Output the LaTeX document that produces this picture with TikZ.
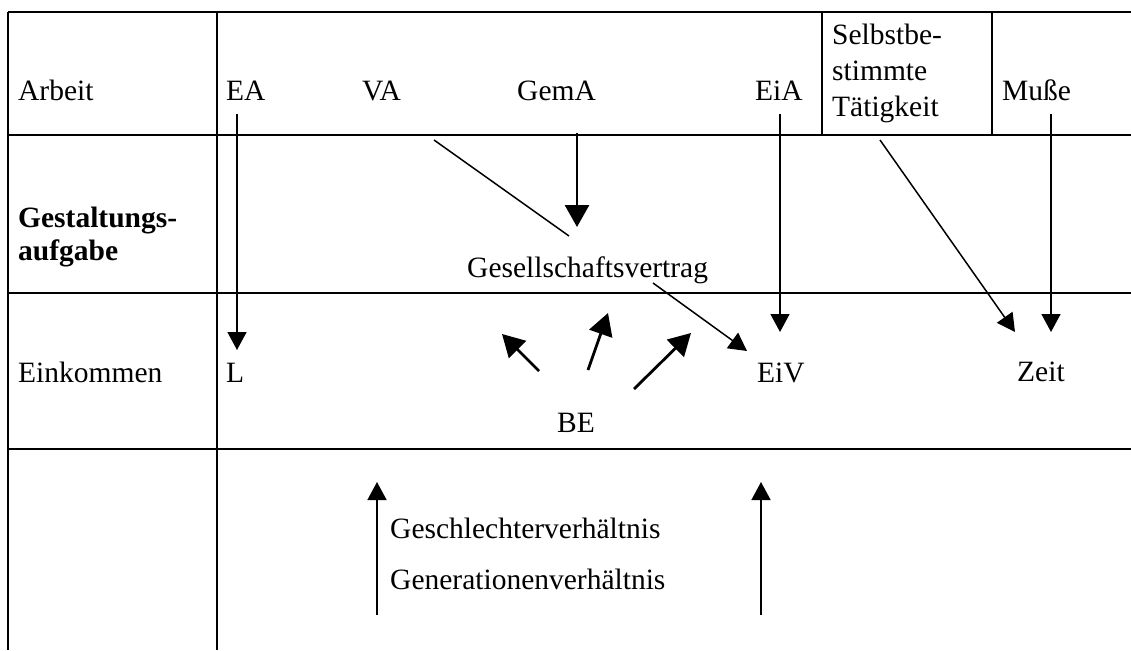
\documentclass[tikz,border=0pt]{standalone}
\usepackage{fontspec}
\setmainfont{Liberation Serif}
\usetikzlibrary{arrows.meta}
\tikzset{
  gridline/.style={line width=2.6pt},
  lbl/.style={anchor=base west, inner sep=0pt, font=\fontsize{29.5}{34}\selectfont},
  blbl/.style={lbl, font=\fontsize{29.5}{34}\selectfont\bfseries},
  thinarrow/.style={line width=1.5pt, -{Triangle[length=18pt,width=19pt]}},
  thickarrow/.style={line width=2.8pt, -{Triangle[length=22pt,width=24pt]}},
  plainline/.style={line width=1.5pt}
}
\begin{document}
\begin{tikzpicture}[x=1pt,y=-1pt]
\useasboundingbox (0,0) rectangle (1131,650);
% table grid
\draw[gridline] (8,12) -- (1131,12);
\draw[gridline] (8,12) -- (8,650);
\draw[gridline] (217,12) -- (217,650);
\draw[gridline] (8,135) -- (1131,135);
\draw[gridline] (8,293) -- (1131,293);
\draw[gridline] (8,449) -- (1131,449);
\draw[gridline] (822,12) -- (822,135);
\draw[gridline] (992,12) -- (992,135);
% row 1
\node[lbl] (arbeit) at (18,100) {Arbeit};
\node[lbl] (ea) at (226,100) {EA};
\node[lbl] (va) at (362,100) {VA};
\node[lbl] (gema) at (517,100) {GemA};
\node[lbl] (eia) at (755,100) {EiA};
\node[lbl] (sb1) at (832,45) {Selbstbe-};
\node[lbl] (sb2) at (832,81) {stimmte};
\node[lbl] (sb3) at (832,117) {Tätigkeit};
\node[lbl] (musse) at (1002,100) {Muße};
% row 2
\node[blbl] (gest1) at (18,227) {Gestaltungs-};
\node[blbl] (gest2) at (18,260) {aufgabe};
\node[lbl] (gv) at (467,277) {Gesellschaftsvertrag};
% row 3
\node[lbl] (eink) at (18,382) {Einkommen};
\node[lbl] (l) at (226,382) {L};
\node[lbl] (eiv) at (757,382) {EiV};
\node[lbl] (zeit) at (1017,381) {Zeit};
\node[lbl] (be) at (557,432) {BE};
% row 4
\node[lbl] (geschl) at (390,538) {Geschlechterverhältnis};
\node[lbl] (gener) at (390,589) {Generationenverhältnis};
% connector end points
\coordinate (eaS) at (237,114);   \coordinate (lT) at (237,350);
\coordinate (vaS) at (434,140);   \coordinate (gvT) at (569,236);
\coordinate (gemS) at (577,133);  \coordinate (gemT) at (577,227);
\coordinate (eiaS) at (780,114);  \coordinate (eiaT) at (780,332);
\coordinate (gvS) at (653,283);   \coordinate (eivT) at (747,351);
\coordinate (sbS) at (880,140);   \coordinate (zeitT1) at (1015,332);
\coordinate (muS) at (1051,114);  \coordinate (zeitT2) at (1051,332);
\coordinate (be1S) at (539,371);  \coordinate (be1T) at (502,334);
\coordinate (be2S) at (588,370);  \coordinate (be2T) at (608,313);
\coordinate (be3S) at (634,389);  \coordinate (be3T) at (691,333);
\coordinate (up1S) at (377,615);  \coordinate (up1T) at (377,482);
\coordinate (up2S) at (761,615);  \coordinate (up2T) at (761,482);
% connectors
\draw[thinarrow] (eaS) -- (lT);
\draw[plainline] (vaS) -- (gvT);
\draw[thickarrow] (gemS) -- (gemT);
\draw[thinarrow] (eiaS) -- (eiaT);
\draw[thinarrow] (gvS) -- (eivT);
\draw[thinarrow] (sbS) -- (zeitT1);
\draw[thinarrow] (muS) -- (zeitT2);
\draw[thickarrow] (be1S) -- (be1T);
\draw[thickarrow] (be2S) -- (be2T);
\draw[thickarrow] (be3S) -- (be3T);
\draw[thinarrow] (up1S) -- (up1T);
\draw[thinarrow] (up2S) -- (up2T);
\end{tikzpicture}
\end{document}
